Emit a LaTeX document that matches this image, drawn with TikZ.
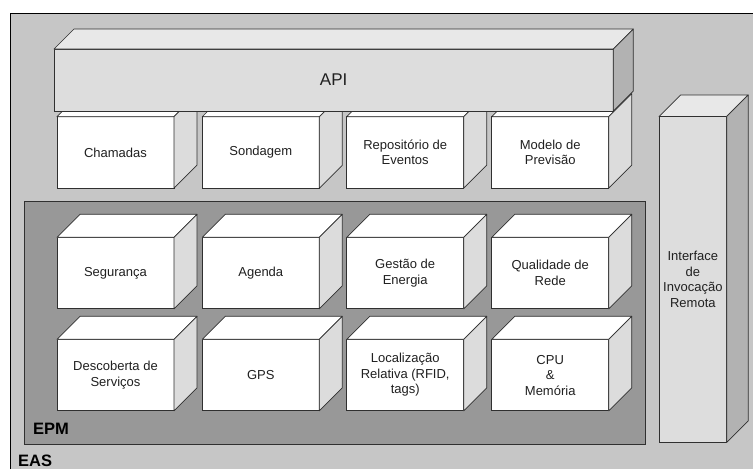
\documentclass[tikz,border=0pt]{standalone}
\usepackage{fontspec}
\setmainfont{Liberation Sans}
\definecolor{easbg}{HTML}{C6C6C6}
\definecolor{epmbg}{HTML}{989898}
\definecolor{edgecol}{HTML}{303030}
\definecolor{facegray}{HTML}{DDDDDD}
\definecolor{topgray}{HTML}{E8E8E8}
\definecolor{sidegray}{HTML}{B2B2B2}
\definecolor{boxside}{HTML}{DCDCDC}
\definecolor{txtcol}{HTML}{202020}
\newcommand\cubefaces[4]{%
  \filldraw[fill=#3,draw=edgecol,line width=0.7pt,line join=round]
    (#1.north west) -- ++(#2,-#2) -- ([shift={(#2,-#2)}]#1.north east) -- (#1.north east) -- cycle;
  \filldraw[fill=#4,draw=edgecol,line width=0.7pt,line join=round]
    (#1.north east) -- ++(#2,-#2) -- ([shift={(#2,-#2)}]#1.south east) -- (#1.south east) -- cycle;
}
\begin{document}
\begin{tikzpicture}[x=1pt,y=-1pt,
  frontface/.style={draw=edgecol, line width=0.8pt, fill=white, inner sep=0pt, outer sep=0pt,
    anchor=north west, align=center, text=txtcol, font=\fontsize{13}{15.5}\selectfont},
  module/.style={frontface, minimum width=117pt, minimum height=71.5pt},
  container/.style={inner sep=0pt, outer sep=0pt, anchor=north west},
  biglabel/.style={inner sep=0pt, anchor=base west, text=black, font=\fontsize{16.5}{18}\selectfont\bfseries}
]
\useasboundingbox (0,0) rectangle (753,469);
\fill[white] (0,0) rectangle (753,469);

% EAS container
\node[container, fill=easbg, minimum width=743pt, minimum height=456pt] (eas) at (10,13) {};
\draw[black, line width=0.8pt] (eas.south west) -- (eas.north west) -- (eas.north east);

% Interface de Invocacao Remota
\node[frontface, fill=facegray, minimum width=67.7pt, minimum height=326pt] (iface) at (659,116.5)
  {Interface\\de\\Invoca\c{c}\~ao\\Remota};
\cubefaces{iface}{21.5}{topgray}{sidegray}

% top row modules
\node[module] (cham) at (57,116.7) {Chamadas};
\cubefaces{cham}{23}{white}{boxside}
\node[module] (sond) at (202.3,116.7) {Sondagem};
\cubefaces{sond}{23}{white}{boxside}
\node[module] (repo) at (346.7,116.7) {Reposit\'orio de\\Eventos};
\cubefaces{repo}{23}{white}{boxside}
\node[module] (prev) at (491.7,116.7) {Modelo de\\Previs\~ao};
\cubefaces{prev}{23}{white}{boxside}

% API
\node[frontface, fill=facegray, minimum width=559.3pt, minimum height=62pt,
  font=\fontsize{17}{20}\selectfont] (api) at (54,49) {API};
\cubefaces{api}{20}{topgray}{sidegray}

% EPM container
\node[container, fill=epmbg, draw=edgecol, line width=0.8pt, minimum width=620.7pt, minimum height=243pt] (epm) at (24.3,201) {};

% middle row
\node[module] (seg) at (57,237.3) {Seguran\c{c}a};
\cubefaces{seg}{23}{white}{boxside}
\node[module] (agen) at (202.3,237.3) {Agenda};
\cubefaces{agen}{23}{white}{boxside}
\node[module] (ener) at (346.7,237.3) {Gest\~ao de\\Energia};
\cubefaces{ener}{23}{white}{boxside}
\node[module] (rede) at (491.7,237.3) {Qualidade de\\Rede};
\cubefaces{rede}{23}{white}{boxside}

% bottom row
\node[module] (desc) at (57,339.3) {Descoberta de\\Servi\c{c}os};
\cubefaces{desc}{23}{white}{boxside}
\node[module] (gps) at (202.3,339.3) {GPS};
\cubefaces{gps}{23}{white}{boxside}
\node[module] (loc) at (346.7,339.3) {Localiza\c{c}\~ao\\Relativa (RFID,\\tags)};
\cubefaces{loc}{23}{white}{boxside}
\node[module] (cpu) at (491.7,339.3) {CPU\\\&\\Mem\'oria};
\cubefaces{cpu}{23}{white}{boxside}

% labels
\node[biglabel] (epmlabel) at (33,434.5) {EPM};
\node[biglabel, font=\fontsize{16.5}{19}\selectfont\bfseries] (easlabel) at (18,466.5) {EAS};
\end{tikzpicture}
\end{document}
